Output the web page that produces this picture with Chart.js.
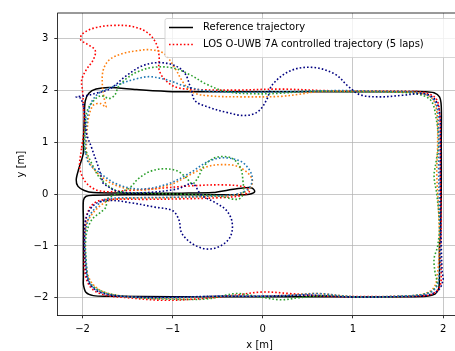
<!DOCTYPE html>
<html>
<head>
<meta charset="utf-8">
<script src="https://cdn.jsdelivr.net/npm/chart.js@4.4.0/dist/chart.umd.min.js"></script>
<style>
  html, body { margin: 0; padding: 0; overflow: hidden; background: #fff; }
  #wrap { width: 470px; height: 351px; }
</style>
</head>
<body>
<div id="wrap"><canvas id="myChart" width="470" height="351"></canvas></div>
<script>
// tick values
const xTicks = [-2, -1, 0, 1, 2];
const yTicks = [-2, -1, 0, 1, 2, 3];

const legendLabels = ["Reference trajectory", "LOS O-UWB 7A controlled trajectory (5 laps)"];

// reference path [x, y]
const refPath = [
  [-1.99, 1.0], [-1.98, 1.5], [-1.97, 1.8], [-1.93, 1.95], [-1.85, 2.03], [-1.7, 2.06], [-1.4, 2.02],
  [-1.0, 1.98], [-0.5, 1.98], [0.5, 1.98], [1.5, 1.98], [1.8, 1.98], [1.9, 1.96], [1.96, 1.88],
  [1.98, 1.7], [1.98, 1.0], [1.98, 0.0], [1.97, -0.8], [1.96, -1.0], [1.96, -1.6], [1.95, -1.83],
  [1.91, -1.93], [1.82, -1.97], [1.6, -1.98], [1.0, -1.98], [0.0, -1.98], [-1.0, -1.98], [-1.7, -1.97],
  [-1.88, -1.96], [-1.96, -1.9], [-1.99, -1.75], [-1.99, -1.6], [-1.99, -1.2], [-1.99, -0.5],
  [-1.99, -0.12], [-1.96, -0.04], [-1.88, -0.02], [-1.5, -0.01], [-0.8, -0.01], [-0.3, -0.01],
  [-0.15, 0.0], [-0.09, 0.05], [-0.12, 0.12], [-0.22, 0.12], [-0.38, 0.08], [-0.55, 0.03],
  [-0.9, 0.02], [-1.5, 0.02], [-1.88, 0.03], [-1.98, 0.07], [-2.05, 0.15], [-2.07, 0.28],
  [-2.04, 0.5], [-1.99, 0.8], [-1.99, 1.0]
];

// controlled laps [x, y]
const lapRed = [
  [-2.01, 0.9], [-1.98, 1.3], [-1.99, 1.7], [-2.0, 2.0], [-2.01, 2.2], [-1.96, 2.4], [-1.88, 2.6],
  [-1.86, 2.78], [-1.95, 2.9], [-2.02, 2.98], [-2.0, 3.1], [-1.85, 3.22], [-1.65, 3.26], [-1.45, 3.24],
  [-1.28, 3.12], [-1.18, 2.9], [-1.15, 2.65], [-1.15, 2.4], [-1.08, 2.2], [-0.95, 2.06], [-0.7, 2.02],
  [-0.3, 2.01], [0.2, 2.03], [0.7, 2.0], [1.2, 1.99], [1.6, 1.99], [1.8, 1.96], [1.92, 1.85],
  [1.96, 1.6], [1.97, 1.0], [1.97, 0.3], [1.98, -0.5], [1.97, -1.2], [1.98, -1.6], [1.96, -1.8],
  [1.88, -1.93], [1.7, -1.97], [1.2, -1.98], [0.7, -1.97], [0.3, -1.92], [0.0, -1.89], [-0.3, -1.95],
  [-0.7, -2.02], [-1.1, -2.05], [-1.5, -2.0], [-1.75, -1.95], [-1.9, -1.82], [-1.97, -1.55],
  [-1.98, -1.1], [-1.97, -0.6], [-1.93, -0.3], [-1.85, -0.15], [-1.7, -0.1], [-1.3, -0.1],
  [-0.9, -0.09], [-0.5, -0.07], [-0.25, -0.03], [-0.15, 0.05], [-0.2, 0.14], [-0.45, 0.18],
  [-0.8, 0.16], [-1.1, 0.12], [-1.5, 0.07], [-1.8, 0.06], [-1.95, 0.2], [-2.03, 0.5], [-2.01, 0.9]
];
const lapOrange = [
  [-1.96, 0.8], [-1.95, 1.2], [-1.93, 1.5], [-1.88, 1.72], [-1.8, 1.75], [-1.74, 1.68], [-1.76, 1.85],
  [-1.78, 2.1], [-1.77, 2.4], [-1.7, 2.6], [-1.55, 2.72], [-1.4, 2.77], [-1.25, 2.79], [-1.1, 2.72],
  [-0.98, 2.45], [-0.88, 2.15], [-0.78, 1.97], [-0.6, 1.9], [-0.2, 1.88], [0.2, 1.89], [0.4, 1.93],
  [0.6, 1.98], [1.0, 1.99], [1.5, 1.98], [1.75, 1.95], [1.88, 1.85], [1.93, 1.6], [1.94, 1.0],
  [1.93, 0.4], [1.95, -0.3], [1.96, -1.0], [1.94, -1.5], [1.9, -1.8], [1.78, -1.93], [1.5, -1.97],
  [1.0, -1.98], [0.6, -1.92], [0.3, -1.95], [0.0, -1.97], [-0.5, -1.97], [-1.0, -2.01], [-1.5, -1.98],
  [-1.75, -1.9], [-1.88, -1.75], [-1.95, -1.5], [-1.97, -1.0], [-1.96, -0.6], [-1.9, -0.4],
  [-1.8, -0.22], [-1.7, -0.12], [-1.5, -0.08], [-1.1, -0.07], [-0.7, -0.05], [-0.35, -0.02],
  [-0.16, 0.08], [-0.12, 0.3], [-0.27, 0.53], [-0.47, 0.57], [-0.62, 0.53], [-0.77, 0.41],
  [-1.03, 0.18], [-1.33, 0.08], [-1.6, 0.15], [-1.8, 0.35], [-1.92, 0.6], [-1.96, 0.8]
];
const lapGreen = [
  [-1.98, 0.9], [-1.97, 1.3], [-1.95, 1.6], [-1.88, 1.8], [-1.8, 1.9], [-1.7, 1.85], [-1.64, 1.92],
  [-1.6, 2.08], [-1.5, 2.25], [-1.38, 2.37], [-1.22, 2.45], [-1.0, 2.44], [-0.8, 2.3], [-0.62, 2.12],
  [-0.4, 1.98], [-0.1, 1.94], [0.2, 1.95], [0.5, 1.99], [1.0, 1.98], [1.5, 1.97], [1.75, 1.92],
  [1.87, 1.8], [1.92, 1.5], [1.95, 1.0], [1.92, 0.6], [1.9, 0.35], [1.93, 0.0], [1.96, -0.6],
  [1.94, -1.0], [1.9, -1.25], [1.91, -1.5], [1.93, -1.75], [1.85, -1.9], [1.6, -1.97], [1.1, -1.99],
  [0.7, -1.96], [0.4, -2.0], [0.2, -2.04], [-0.05, -1.98], [-0.3, -1.92], [-0.6, -2.02], [-1.0, -2.03],
  [-1.5, -1.98], [-1.78, -1.88], [-1.92, -1.7], [-1.96, -1.3], [-1.96, -0.8], [-1.9, -0.5],
  [-1.8, -0.35], [-1.74, -0.25], [-1.73, -0.1], [-1.6, 0.02], [-1.48, 0.12], [-1.38, 0.3],
  [-1.25, 0.44], [-1.1, 0.49], [-0.95, 0.45], [-0.85, 0.32], [-0.78, 0.2], [-0.72, 0.32],
  [-0.65, 0.55], [-0.52, 0.71], [-0.35, 0.7], [-0.25, 0.52], [-0.22, 0.25], [-0.22, 0.0],
  [-0.28, -0.1], [-0.5, -0.03], [-0.9, 0.0], [-1.3, 0.02], [-1.6, 0.05], [-1.8, 0.3], [-1.9, 0.6],
  [-1.98, 0.9]
];
const lapBlue = [
  [-1.97, 0.8], [-1.96, 1.2], [-1.94, 1.55], [-1.9, 1.78], [-1.82, 1.95], [-1.7, 2.05], [-1.55, 2.15],
  [-1.4, 2.23], [-1.25, 2.27], [-1.05, 2.2], [-0.85, 2.08], [-0.6, 1.99], [-0.2, 1.97], [0.3, 1.98],
  [0.8, 2.0], [1.3, 1.99], [1.7, 1.97], [1.86, 1.88], [1.93, 1.7], [1.95, 1.2], [1.95, 0.5],
  [1.96, -0.3], [1.97, -1.0], [1.96, -1.5], [1.93, -1.78], [1.82, -1.92], [1.5, -1.97], [1.0, -1.98],
  [0.6, -1.92], [0.3, -1.96], [0.0, -1.97], [-0.5, -1.97], [-1.0, -2.0], [-1.5, -1.98], [-1.78, -1.9],
  [-1.92, -1.72], [-1.96, -1.3], [-1.97, -0.8], [-1.93, -0.45], [-1.85, -0.25], [-1.75, -0.1],
  [-1.4, -0.07], [-1.0, -0.06], [-0.6, -0.04], [-0.3, 0.0], [-0.15, 0.12], [-0.12, 0.35],
  [-0.2, 0.58], [-0.3, 0.67], [-0.47, 0.7], [-0.62, 0.62], [-0.8, 0.42], [-1.05, 0.2], [-1.35, 0.1],
  [-1.6, 0.18], [-1.8, 0.4], [-1.93, 0.6], [-1.97, 0.8]
];
const lapNavy = [
  [-1.77, 0.2], [-1.82, 0.5], [-1.9, 0.9], [-1.96, 1.2], [-1.98, 1.6], [-2.02, 1.85], [-2.07, 1.88],
  [-1.97, 1.9], [-1.85, 1.95], [-1.7, 2.03], [-1.52, 2.28], [-1.35, 2.47], [-1.18, 2.54], [-1.0, 2.5],
  [-0.87, 2.35], [-0.8, 2.05], [-0.75, 1.8], [-0.6, 1.68], [-0.4, 1.58], [-0.2, 1.52], [-0.05, 1.6],
  [0.05, 1.85], [0.1, 2.1], [0.3, 2.38], [0.55, 2.45], [0.8, 2.32], [0.95, 2.08], [1.08, 1.92],
  [1.3, 1.88], [1.55, 1.91], [1.78, 1.94], [1.9, 1.85], [1.96, 1.6], [1.97, 1.0], [1.97, 0.0],
  [1.98, -1.0], [1.99, -1.5], [2.0, -1.65], [1.95, -1.85], [1.82, -1.95], [1.5, -1.98], [1.0, -1.99],
  [0.5, -1.95], [0.0, -1.97], [-0.5, -1.97], [-1.0, -1.99], [-1.5, -1.98], [-1.8, -1.9], [-1.93, -1.7],
  [-1.97, -1.3], [-1.98, -0.8], [-1.95, -0.4], [-1.85, -0.18], [-1.7, -0.12], [-1.45, -0.17],
  [-1.2, -0.25], [-1.0, -0.32], [-0.93, -0.5], [-0.9, -0.75], [-0.78, -0.96], [-0.62, -1.06],
  [-0.47, -1.0], [-0.36, -0.82], [-0.34, -0.55], [-0.4, -0.32], [-0.52, -0.17], [-0.68, -0.02],
  [-0.78, 0.2], [-0.95, 0.1], [-1.3, 0.03], [-1.6, 0.05], [-1.77, 0.2]
];

const laps = [lapRed, lapOrange, lapGreen, lapBlue, lapNavy];
const lapColors = ["#ff0000", "#ff7f0e", "#2ca02c", "#1f77b4", "#000080"];

const toXY = (arr) => arr.map((p) => ({ x: p[0], y: p[1] }));
const FONT = "DejaVu Sans";
const DOTS = [1.6, 2.1];

const datasets = [
  {
    label: legendLabels[0],
    data: toXY(refPath),
    borderColor: "#000",
    borderWidth: 1.5,
    tension: 0.3,
    order: 10,
  },
];
laps.forEach((lap, i) => {
  datasets.push({
    label: i == 0 ? legendLabels[1] : "",
    data: toXY(lap),
    borderColor: lapColors[i],
    borderWidth: 1.6,
    borderDash: DOTS,
    tension: 0.35,
    order: 5 - i,
  });
});

// legend drawn inside the axes like matplotlib
const insideLegend = {
  id: "insideLegend",
  afterDraw(chart) {
    const c = chart.ctx;
    const left = 165, top = 18.5, w = 292, h = 39;
    c.save();
    c.fillStyle = "rgba(255,255,255,0.8)";
    c.strokeStyle = "#cccccc";
    c.lineWidth = 0.8;
    c.beginPath();
    c.roundRect(left, top, w, h, 2);
    c.fill();
    c.stroke();
    const rows = [
      { y: 27.5, color: "#000", dash: [], width: 1.5 },
      { y: 44.5, color: lapColors[0], dash: DOTS, width: 1.6 },
    ];
    rows.forEach((r, i) => {
      c.beginPath();
      c.setLineDash(r.dash);
      c.strokeStyle = r.color;
      c.lineWidth = r.width;
      c.moveTo(169, r.y);
      c.lineTo(193, r.y);
      c.stroke();
      c.setLineDash([]);
      c.fillStyle = "#000";
      c.font = "10px '" + FONT + "'";
      c.textBaseline = "middle";
      c.fillText(legendLabels[i], 203, r.y);
    });
    c.restore();
  },
};

// top spine
const topSpine = {
  id: "topSpine",
  afterDraw(chart) {
    const a = chart.chartArea, c = chart.ctx;
    c.save();
    c.strokeStyle = "#000";
    c.lineWidth = 0.8;
    c.beginPath();
    c.moveTo(a.left, a.top);
    c.lineTo(a.right, a.top);
    c.stroke();
    c.restore();
  },
};

const minus = (v) => (v < 0 ? "\u2212" + Math.abs(v) : "" + v);

const ctx = document.getElementById("myChart");
new Chart(ctx, {
  type: "scatter",
  data: { datasets: datasets },
  options: {
    responsive: false,
    animation: false,
    showLine: true,
    elements: { point: { radius: 0 } },
    layout: { padding: { top: 13, right: 8, left: 0, bottom: 0 } },
    plugins: { legend: { display: false }, tooltip: { enabled: false } },
    scales: {
      x: {
        type: "linear",
        min: -2.28,
        max: 2.21,
        afterBuildTicks: (s) => { s.ticks = xTicks.map((v) => ({ value: v })); },
        afterFit: (s) => { s.height = 35.7; },
        ticks: { callback: minus, color: "#000", font: { family: FONT, size: 10 }, padding: 5, maxRotation: 0 },
        grid: { color: "#b0b0b0", lineWidth: 0.7, tickLength: 3, tickColor: "#000", tickWidth: 0.8 },
        border: { color: "#000", width: 0.8 },
        title: { display: true, text: "x [m]", color: "#000", font: { family: FONT, size: 10 }, padding: { top: 0, bottom: 0 } },
      },
      y: {
        type: "linear",
        min: -2.34,
        max: 3.5,
        afterBuildTicks: (s) => { s.ticks = yTicks.map((v) => ({ value: v })); },
        afterFit: (s) => { s.width = 57.3; },
        ticks: { callback: minus, color: "#000", font: { family: FONT, size: 10 }, padding: 6 },
        grid: { color: "#b0b0b0", lineWidth: 0.7, tickLength: 3, tickColor: "#000", tickWidth: 0.8 },
        border: { color: "#000", width: 0.8 },
        title: { display: true, text: "y [m]", color: "#000", font: { family: FONT, size: 10 }, padding: { top: 15, bottom: 0 } },
      },
    },
  },
  plugins: [insideLegend, topSpine],
});
</script>
</body>
</html>
